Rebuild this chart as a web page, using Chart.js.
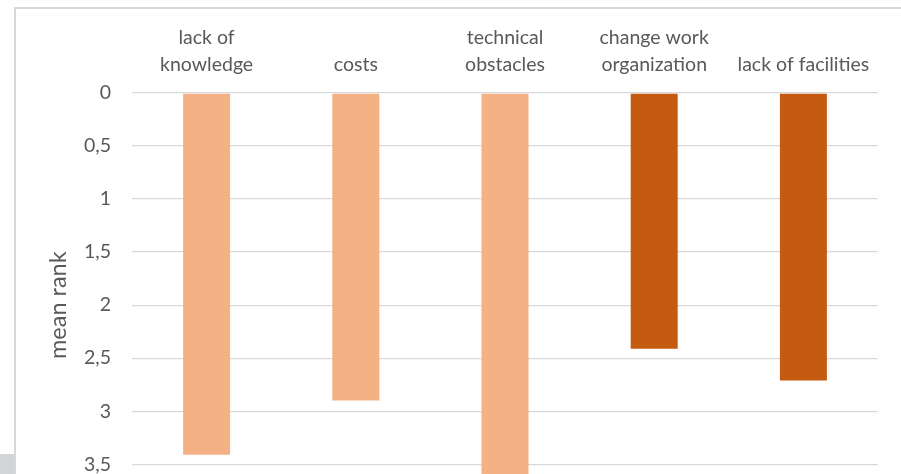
<!DOCTYPE html>
<html>
<head>
<meta charset="utf-8">
<script src="https://cdn.jsdelivr.net/npm/chart.js@4"></script>
<style>
  html, body { margin: 0; padding: 0; background: #fff; overflow: hidden; width: 901px; height: 474px; }
  #frame { position: absolute; left: 14px; top: 7px; width: 900px; height: 600px;
           border-left: 2px solid #d9d9d9; border-top: 2px solid #d9d9d9; }
  #shade { position: absolute; left: 0; top: 454px; width: 14px; height: 20px; background: #d2d5d7; }
  #rankchart { position: absolute; left: 0; top: 0; }
</style>
</head>
<body>
<div id="frame"></div>
<div id="shade"></div>
<canvas id="rankchart" width="901" height="550"></canvas>
<script>
var categories = [
    ['lack of', 'knowledge'],
    'costs',
    ['technical', 'obstacles'],
    ['change work', 'organization'],
    'lack of facilities'
];
var meanRank = [3.41, 2.9, 3.7, 2.41, 2.71];
var barColors = ['#f4b183', '#f4b183', '#f4b183', '#c55a11', '#c55a11'];
var yTicks = [0, 0.5, 1, 1.5, 2, 2.5, 3, 3.5, 4];

var fontFamily = "Lato, 'Open Sans', sans-serif";
var textColor = '#595959';

var ctx = document.getElementById('rankchart').getContext('2d');

var rankchart = new Chart(ctx, {
    type: 'bar',
    data: {
        labels: categories,
        datasets: [{
            data: meanRank,
            backgroundColor: barColors,
            borderWidth: 0,
            categoryPercentage: 1,
            barPercentage: 0.315
        }]
    },
    options: {
        responsive: false,
        animation: false,
        layout: { padding: { top: 0, left: 0, right: 23, bottom: 4 } },
        plugins: {
            legend: { display: false },
            tooltip: { enabled: false }
        },
        scales: {
            x: {
                position: 'top',
                grid: { display: false, drawTicks: false },
                border: { display: false },
                ticks: {
                    color: textColor,
                    padding: 15,
                    maxRotation: 0,
                    autoSkip: false,
                    font: { family: fontFamily, size: 19.5, lineHeight: 1.38 }
                },
                afterFit: function (scale) { scale.height = 93; }
            },
            y: {
                reverse: true,
                min: 0,
                max: 4,
                afterBuildTicks: function (scale) {
                    scale.ticks = yTicks.map(function (v) { return { value: v }; });
                },
                grid: { color: '#d9d9d9', lineWidth: 1.3, drawTicks: false },
                border: { display: false },
                ticks: {
                    color: textColor,
                    padding: 21,
                    font: { family: fontFamily, size: 19.5 },
                    callback: function (v) { return String(v).replace('.', ','); }
                },
                title: {
                    display: true,
                    text: 'mean rank',
                    color: textColor,
                    padding: { top: 44, bottom: 0 },
                    font: { family: fontFamily, size: 23.5 }
                },
                afterFit: function (scale) { scale.width = 132; }
            }
        }
    }
});
</script>
</body>
</html>
